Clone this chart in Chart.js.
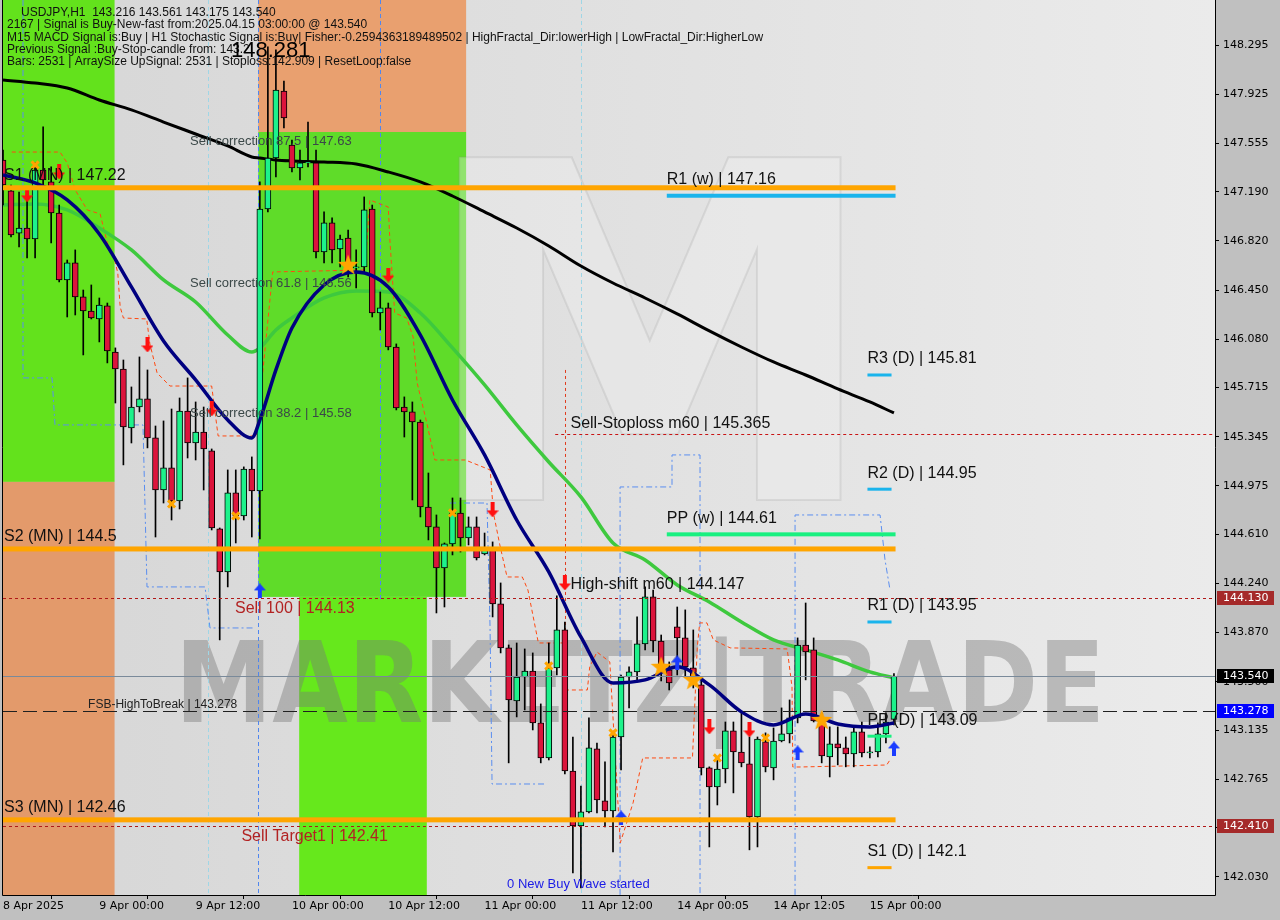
<!DOCTYPE html>
<html>
<head>
<meta charset="utf-8">
<script src="https://cdn.jsdelivr.net/npm/chart.js@4.4.1/dist/chart.umd.min.js"></script>
<style>
  html, body { margin: 0; padding: 0; background: #c0c0c0; }
  #wrap { width: 1280px; height: 920px; }
</style>
</head>
<body>
<div id="wrap"><canvas id="chart" width="1280" height="920"></canvas></div>
<script>
// USDJPY H1 candles, bar 0 = 8 Apr 12:00 ... bar 111 = 15 Apr 03:00
const opens = [147.429,147.196,146.879,146.917,146.834,147.354,147.264,147.030,146.526,146.654,146.398,146.292,146.232,146.330,145.983,145.855,145.411,145.569,145.630,145.336,144.944,145.110,144.862,145.539,145.298,145.381,145.238,144.651,144.327,144.922,144.749,145.102,144.937,147.060,147.444,147.949,147.542,147.369,147.407,147.407,146.736,146.955,146.759,146.842,146.616,146.624,147.060,146.277,146.315,146.021,145.569,145.532,145.456,144.816,144.666,144.357,144.538,144.771,144.583,144.666,144.462,144.493,144.086,143.755,143.356,143.536,143.581,143.190,142.926,143.604,143.890,142.828,142.414,142.520,142.994,142.603,142.527,143.084,143.536,143.574,143.785,144.139,143.807,143.589,143.913,143.830,143.604,143.476,142.851,142.708,142.843,143.130,142.971,142.881,142.482,143.047,142.851,143.054,143.107,143.228,143.777,143.740,143.205,142.934,143.032,143.002,142.956,143.122,142.964,142.971,143.107,143.216];
const highs = [147.504,147.241,147.188,147.188,147.407,147.678,147.377,147.090,146.676,146.752,146.450,146.488,146.390,146.352,146.014,145.923,145.720,145.946,145.848,145.426,145.464,145.554,145.637,145.788,145.607,145.569,145.253,144.658,145.095,145.095,145.118,145.193,147.264,148.281,148.258,148.024,147.580,147.504,147.715,147.504,147.038,146.993,146.864,146.902,146.752,147.151,147.090,146.435,146.352,146.044,145.645,145.607,145.471,145.072,144.756,144.545,144.884,144.884,144.741,144.741,144.620,144.553,144.244,143.777,143.792,143.747,143.717,143.333,143.792,144.147,143.950,143.084,142.715,143.228,143.039,142.896,143.122,143.551,143.612,143.988,144.214,144.191,143.852,143.649,144.063,144.041,143.890,143.536,142.859,142.934,143.197,143.197,143.265,143.084,143.084,143.115,143.152,143.303,143.363,143.830,144.093,143.830,143.265,143.160,143.160,143.084,143.160,143.197,143.009,143.190,143.265,143.561];
const lows = [147.090,146.849,146.774,146.691,146.691,147.233,146.804,146.511,146.247,146.262,145.961,146.232,146.059,145.901,145.599,145.133,145.298,145.532,145.261,144.590,144.846,144.718,144.801,145.185,145.170,144.944,144.643,143.815,144.214,144.545,144.718,144.590,144.575,147.038,147.301,147.670,147.339,147.279,147.377,146.691,146.654,146.654,146.624,146.548,146.465,146.586,146.247,146.149,145.999,145.547,145.343,144.869,144.741,144.568,144.018,144.063,144.455,144.477,144.530,144.417,144.455,143.988,143.717,142.889,143.235,143.288,143.137,142.889,142.911,143.551,142.806,142.060,141.947,142.512,142.512,142.407,142.218,142.836,143.303,143.499,143.740,143.724,143.506,143.438,143.551,143.536,143.453,142.798,142.256,142.572,142.738,142.663,142.859,142.234,142.256,142.821,142.761,143.047,143.039,143.190,143.514,143.197,142.889,142.783,142.874,142.859,142.859,142.934,142.926,142.934,143.039,143.175];
const closes = [147.241,146.864,146.917,146.834,147.354,147.279,147.030,146.526,146.654,146.398,146.292,146.240,146.337,145.991,145.855,145.419,145.569,145.630,145.336,144.944,145.110,144.862,145.539,145.298,145.381,145.253,144.658,144.327,144.922,144.749,145.102,144.937,147.060,147.444,147.956,147.746,147.369,147.407,147.414,146.736,146.955,146.752,146.834,146.616,146.624,147.053,146.277,146.315,146.021,145.562,145.532,145.456,144.816,144.666,144.357,144.538,144.771,144.583,144.666,144.432,144.493,144.086,143.755,143.363,143.536,143.581,143.190,142.926,143.604,143.890,142.828,142.414,142.520,143.002,142.610,142.527,143.084,143.536,143.574,143.785,144.139,143.807,143.589,143.491,143.830,143.612,143.484,142.851,142.708,142.843,143.130,142.971,142.889,142.482,143.069,142.859,143.054,143.107,143.228,143.777,143.724,143.205,142.941,143.032,143.002,142.956,143.122,142.964,142.971,143.107,143.197,143.540];

// moving averages, read at these bars
const maBars = [0,4,8,12,16,20,24,28,31,32,34,36,40,44,48,52,56,60,64,68,72,76,80,84,88,92,96,100,104,108,111];
const maSlow = [148.032,148.009,147.971,147.881,147.806,147.715,147.625,147.535,147.452,147.444,147.429,147.422,147.414,147.399,147.339,147.264,147.158,147.038,146.917,146.782,146.631,146.503,146.390,146.270,146.142,146.021,145.908,145.810,145.705,145.607,145.524];
const maMid = [147.090,147.098,147.053,146.917,146.752,146.526,146.360,146.111,145.983,146.014,146.149,146.240,146.390,146.443,146.435,146.277,146.014,145.735,145.434,145.155,144.892,144.545,144.417,144.229,144.101,143.950,143.815,143.740,143.664,143.574,143.529];
const maFast = [147.316,147.256,147.128,146.872,146.473,146.066,145.773,145.471,145.336,145.471,145.848,146.164,146.488,146.586,146.473,146.111,145.622,145.208,144.718,144.327,143.837,143.491,143.514,143.612,143.476,143.273,143.175,143.258,143.182,143.160,143.190];

// trailing stop (orange-red dashed), bar position / price
const trailBars = [1.1,7.1,8.0,9.0,10.5,12.1,13.0,13.7,14.3,14.6,15.0,17.9,18.3,19.2,20.8,26.0,26.8,31.6,32.0,33.6,45.1,45.7,48.0,48.2,48.8,50.3,51.1,51.6,52.8,53.8,57.6,60.7,61.1,61.9,62.8,64.7,65.4,66.7,70.0,70.3,72.8,73.1,74.0,75.6,76.9,78.5,79.7,85.9,86.5,86.8,87.7,88.5,90.6,97.7,98.3,98.4,99.3,110.1,110.5];
const trailPrices = [147.489,147.489,147.407,147.203,147.053,147.023,146.804,146.729,146.578,146.322,146.239,146.232,146.044,145.825,145.727,145.727,145.351,145.351,145.607,146.586,146.601,147.128,147.075,146.827,146.277,146.239,146.096,145.750,145.449,145.170,145.170,145.095,144.771,144.530,144.289,144.289,144.191,143.792,143.792,143.438,143.438,143.612,143.724,143.649,142.286,142.588,142.926,142.926,143.762,143.943,143.943,143.815,143.755,143.747,143.461,142.858,142.858,142.873,142.911];

// wave boxes (blue dash-dot), one list per segment
const waveBars = [
  [2.49,2.49,6.11,6.48,17.44,17.94,25.17,25.79,31.40],
  [55.69,60.30,60.68,60.93,67.53],
  [76.88,76.88,83.35,83.35,86.84,86.84],
  [98.68,98.68,109.27,109.89,110.51]
];
const wavePrices = [
  [148.634,145.788,145.788,145.434,145.434,144.214,144.214,143.905,143.905],
  [144.846,144.846,143.913,142.730,142.730],
  [141.895,144.967,144.967,145.208,145.208,141.895],
  [141.895,144.756,144.756,144.417,144.191]
];

// signal marks
const sellArrowBars = [3,7,18,26,48,61,70,88,93];
const sellArrowPrices = [147.166,147.339,146.036,145.554,146.563,144.794,144.244,143.160,143.137];
const buyArrowBars = [32,77,84,99,111];
const buyArrowPrices = [144.184,142.475,143.642,142.964,142.994];
const crossBars = [4,21,29,56,68,76,89,95];
const crossPrices = [147.392,144.839,144.749,144.771,143.619,143.115,142.926,143.077];
const starBars = [43,82,86,102];
const starPrices = [146.639,143.612,143.514,143.212];

// pivot levels
const monthlyNames = ['S1 (MN)', 'S2 (MN)', 'S3 (MN)'];
const monthlyLevels = [147.22, 144.5, 142.46];
const weeklyNames = ['R1 (w)', 'PP (w)'];
const weeklyLevels = [147.16, 144.61];
const dailyNames = ['R3 (D)', 'R2 (D)', 'R1 (D)', 'PP (D)', 'S1 (D)'];
const dailyLevels = [145.81, 144.95, 143.95, 143.09, 142.1];
const stopLoss = 145.365;
const highShift = 144.147;
const sell100 = 144.13;
const fsbHigh = 143.278;
const sellTarget = 142.41;
const lastPrice = 143.540;
const correctionNames = ['Sell correction 87.5', 'Sell correction 61.8', 'Sell correction 38.2'];
const correctionLevels = [147.63, 146.56, 145.58];

// axes
const tickBars = [0,12,24,36,48,60,72,84,96,108];
const tickLabels = ['8 Apr 2025','9 Apr 00:00','9 Apr 12:00','10 Apr 00:00','10 Apr 12:00','11 Apr 00:00','11 Apr 12:00','14 Apr 00:05','14 Apr 12:05','15 Apr 00:00'];
const priceTicks = [148.295,147.925,147.555,147.190,146.820,146.450,146.080,145.715,145.345,144.975,144.610,144.240,143.870,143.500,143.135,142.765,142.400,142.030];

// coloured zones: bar from/to, price from/to
const zoneBars = [[-1,13.9],[-1,13.9],[31.8,57.7],[31.8,57.7],[36.9,52.8]];
const zonePrices = [[145.005,149],[140,145.005],[147.64,149],[144.139,147.64],[140,144.139]];
const zoneColors = ['#63e21c','#e39a6b','#e9a06f','#5fdc29','#66e81c'];

const SANS = '"Liberation Sans", Arial, sans-serif';
const AXIS = '"DejaVu Sans", sans-serif';

function arrowImage(color, up) {
  const c = document.createElement('canvas');
  c.width = 12; c.height = 15;
  const g = c.getContext('2d');
  g.fillStyle = color;
  g.beginPath();
  if (up) {
    g.moveTo(6, 0); g.lineTo(12, 7); g.lineTo(8, 7); g.lineTo(8, 15); g.lineTo(4, 15); g.lineTo(4, 7); g.lineTo(0, 7);
  } else {
    g.moveTo(6, 15); g.lineTo(12, 8); g.lineTo(8, 8); g.lineTo(8, 0); g.lineTo(4, 0); g.lineTo(4, 8); g.lineTo(0, 8);
  }
  g.closePath(); g.fill();
  return c;
}
function starImage() {
  const c = document.createElement('canvas');
  c.width = 22; c.height = 22;
  const g = c.getContext('2d');
  g.fillStyle = '#ffa500';
  g.beginPath();
  for (let k = 0; k < 10; k++) {
    const r = k % 2 ? 4.5 : 11;
    const a = -Math.PI / 2 + k * Math.PI / 5;
    g.lineTo(11 + r * Math.cos(a), 11.5 + r * Math.sin(a));
  }
  g.closePath(); g.fill();
  return c;
}

const bodies = opens.map((o, i) => ({ x: i, y: [o, closes[i]] }));
const wicks = highs.map((h, i) => ({ x: i, y: [lows[i], h] }));
const bodyColors = opens.map((o, i) => closes[i] >= o ? '#1df28b' : '#dc143c');
const pts = (xs, ys) => xs.map((x, i) => ({ x: x, y: ys[i] }));

function text(ctx, s, x, y, font, color) {
  ctx.font = font; ctx.fillStyle = color;
  ctx.textAlign = 'left'; ctx.textBaseline = 'middle';
  ctx.fillText(s, x, y);
}
function noPad(s) {
  s.paddingTop = 0; s.paddingBottom = 0; s.paddingLeft = 0; s.paddingRight = 0;
}

const overlay = {
  id: 'overlay',
  beforeDraw(chart) {
    const { ctx, chartArea: a } = chart;
    ctx.save();
    ctx.fillStyle = '#c0c0c0';
    ctx.fillRect(0, 0, chart.width, chart.height);
    const g = ctx.createLinearGradient(a.left, 0, a.right, 0);
    g.addColorStop(0, '#d6d6d6');
    g.addColorStop(1, '#ebebeb');
    ctx.fillStyle = g;
    ctx.fillRect(a.left, a.top, a.right - a.left, a.bottom - a.top);
    ctx.restore();
  },
  beforeDatasetsDraw(chart) {
    const { ctx, chartArea: a, scales: { x, y } } = chart;
    ctx.save();
    ctx.beginPath(); ctx.rect(a.left, a.top, a.right - a.left, a.bottom - a.top); ctx.clip();
    // zones
    zoneBars.forEach((zb, k) => {
      const x0 = x.getPixelForValue(zb[0]), x1 = x.getPixelForValue(zb[1]);
      const y0 = y.getPixelForValue(zonePrices[k][1]), y1 = y.getPixelForValue(zonePrices[k][0]);
      ctx.fillStyle = zoneColors[k];
      ctx.fillRect(x0, y0, x1 - x0, y1 - y0);
    });
    // logo watermark
    ctx.font = 'bold 470px ' + AXIS;
    ctx.textAlign = 'center'; ctx.textBaseline = 'alphabetic';
    ctx.fillStyle = 'rgba(242,242,242,0.35)';
    ctx.fillText('M', 650, 500);
    ctx.strokeStyle = 'rgba(140,140,140,0.18)'; ctx.lineWidth = 2;
    ctx.strokeText('M', 650, 500);
    // text watermark
    ctx.font = 'bold 112px ' + AXIS;
    const s = 'MARKETZ|TRADE';
    const w = ctx.measureText(s).width;
    ctx.save();
    ctx.translate(175, 722);
    ctx.scale(930 / w, 1);
    ctx.textAlign = 'left';
    ctx.fillStyle = 'rgba(120,120,120,0.42)';
    ctx.fillText(s, 0, 0);
    ctx.restore();
    // vertical markers
    ctx.setLineDash([4, 3]); ctx.lineWidth = 1;
    ctx.strokeStyle = '#4f86ef';
    [[31.8, 0, 895], [47.0, 0, 600]].forEach(v => {
      const px = Math.round(x.getPixelForValue(v[0])) + 0.5;
      ctx.beginPath(); ctx.moveTo(px, v[1]); ctx.lineTo(px, v[2]); ctx.stroke();
    });
    ctx.strokeStyle = '#9fd6e6';
    [25.6, 72.0].forEach(b => {
      const px = Math.round(x.getPixelForValue(b)) + 0.5;
      ctx.beginPath(); ctx.moveTo(px, a.top); ctx.lineTo(px, a.bottom); ctx.stroke();
    });
    ctx.strokeStyle = '#e03c1e'; ctx.setLineDash([3, 3]);
    const sx = Math.round(x.getPixelForValue(70.0)) + 0.5;
    ctx.beginPath(); ctx.moveTo(sx, y.getPixelForValue(145.848)); ctx.lineTo(sx, y.getPixelForValue(143.438)); ctx.stroke();
    ctx.restore();
  },
  afterDatasetsDraw(chart) {
    const { ctx, chartArea: a, scales: { x, y } } = chart;
    const px = b => x.getPixelForValue(b);
    const py = p => y.getPixelForValue(p);
    ctx.save();
    ctx.beginPath(); ctx.rect(a.left, a.top, a.right - a.left, a.bottom - a.top); ctx.clip();

    // dotted / dashed price lines
    const hline = (p, x0, x1, color, dash, width) => {
      const yy = Math.round(py(p)) + 0.5;
      ctx.strokeStyle = color; ctx.lineWidth = width; ctx.setLineDash(dash);
      ctx.beginPath(); ctx.moveTo(x0, yy); ctx.lineTo(x1, yy); ctx.stroke();
    };
    hline(lastPrice, a.left, a.right, '#7a8a9a', [], 1);
    hline(fsbHigh, a.left, a.right, '#202020', [14, 6], 1);
    hline(stopLoss, px(68.8), a.right, '#c81414', [3, 3], 1);
    hline(sell100, a.left, a.right, '#b01818', [3, 3], 1);
    hline(sellTarget, a.left, a.right, '#b01818', [3, 3], 1);
    ctx.setLineDash([]);

    // pivot lines
    const end = px(111.2);
    monthlyLevels.forEach(p => {
      ctx.fillStyle = '#ffa500';
      ctx.fillRect(a.left, py(p) - 2.5, end - a.left, 5);
    });
    weeklyLevels.forEach((p, k) => {
      ctx.fillStyle = k === 0 ? '#1ab4ec' : '#19f080';
      ctx.fillRect(px(82.7), py(p) - 2, end - px(82.7), 4);
    });
    const dailyColors = ['#1ab4ec', '#1ab4ec', '#1ab4ec', '#19f080', '#ffa500'];
    dailyLevels.forEach((p, k) => {
      ctx.fillStyle = dailyColors[k];
      ctx.fillRect(px(107.7), py(p) - 1.5, px(110.7) - px(107.7), 3);
    });

    // labels
    const big = '16px ' + SANS;
    monthlyLevels.forEach((p, k) => text(ctx, monthlyNames[k] + ' | ' + p, a.left + 1, py(p) - 12, big, '#111'));
    weeklyLevels.forEach((p, k) => text(ctx, weeklyNames[k] + ' | ' + p, px(82.7), py(p) - 16, big, '#111'));
    dailyLevels.forEach((p, k) => text(ctx, dailyNames[k] + ' | ' + p, px(107.7), py(p) - 16, big, '#111'));
    text(ctx, 'Sell-Stoploss m60 | ' + stopLoss, px(70.7), py(stopLoss) - 10, big, '#111');
    text(ctx, 'High-shift m60 | ' + highShift, px(70.7), py(highShift) - 11, big, '#111');
    text(ctx, 'Sell 100 | ' + sell100, px(28.9), py(sell100) + 11, big, '#b22222');
    text(ctx, 'Sell Target1 | ' + sellTarget, px(29.7), py(sellTarget) + 10, big, '#b22222');
    text(ctx, 'FSB-HighToBreak | ' + fsbHigh, px(10.6), py(fsbHigh) - 7, '12px ' + SANS, '#222');
    correctionLevels.forEach((p, k) => text(ctx, correctionNames[k] + ' | ' + p.toFixed(2), px(23.3), py(p) + 8, '13px ' + SANS, '#3b4848'));
    text(ctx, '0 New Buy Wave started', px(62.8), 884, '13px ' + SANS, '#1a1ae6');
    ctx.restore();
  },
  afterDraw(chart) {
    const { ctx, chartArea: a, scales: { y } } = chart;
    ctx.save();
    // frame
    ctx.strokeStyle = '#000'; ctx.lineWidth = 1;
    ctx.beginPath();
    ctx.moveTo(2.5, 0); ctx.lineTo(2.5, a.bottom + 0.5);
    ctx.lineTo(a.right + 0.5, a.bottom + 0.5); ctx.lineTo(a.right + 0.5, 0);
    ctx.stroke();
    // price tags on the axis
    [[sell100, '#a52a2a'], [lastPrice, '#000000'], [fsbHigh, '#0000ff'], [sellTarget, '#a52a2a']].forEach(t => {
      const yy = Math.round(y.getPixelForValue(t[0]));
      ctx.fillStyle = t[1];
      ctx.fillRect(a.right + 2, yy - 7, 57, 14);
      text(ctx, t[0].toFixed(3), a.right + 8, yy + 0.5, '11px ' + AXIS, '#fff');
    });
    // header
    const hf = '12px ' + SANS;
    text(ctx, 'USDJPY,H1  143.216 143.561 143.175 143.540', 21, 12.5, hf, '#111');
    text(ctx, '2167 | Signal is Buy-New-fast from:2025.04.15 03:00:00 @ 143.540', 7, 25, hf, '#111');
    text(ctx, 'M15 MACD Signal is:Buy | H1 Stochastic Signal is:Buy| Fisher:-0.2594363189489502 | HighFractal_Dir:lowerHigh | LowFractal_Dir:HigherLow', 7, 37.5, hf, '#111');
    text(ctx, 'Previous Signal :Buy-Stop-candle from: 143.2', 7, 50, hf, '#111');
    text(ctx, 'Bars: 2531 | ArraySize UpSignal: 2531 | Stoploss:142.909 | ResetLoop:false', 7, 62, hf, '#111');
    text(ctx, highs[33].toFixed(3), 231, 51, '22px ' + SANS, '#000');
    ctx.restore();
  }
};

const waveSets = waveBars.map((wb, k) => ({
  type: 'line', data: pts(wb, wavePrices[k]), borderColor: '#5a8ef0', borderWidth: 1,
  borderDash: [6, 3, 2, 3], pointRadius: 0, order: 10
}));

new Chart(document.getElementById('chart'), {
  type: 'bar',
  data: {
    datasets: waveSets.concat([
      { type: 'line', data: pts(trailBars, trailPrices), borderColor: '#ff4a12', borderWidth: 1, borderDash: [4, 3], pointRadius: 0, order: 9 },
      { type: 'line', data: pts(maBars, maSlow), borderColor: '#000000', borderWidth: 3, pointRadius: 0, cubicInterpolationMode: 'monotone', order: 8 },
      { type: 'line', data: pts(maBars, maMid), borderColor: '#3ec93e', borderWidth: 3.5, pointRadius: 0, cubicInterpolationMode: 'monotone', order: 7 },
      { data: wicks, backgroundColor: '#000', barThickness: 1, grouped: false, order: 6 },
      { data: bodies, backgroundColor: bodyColors, borderColor: '#000', borderWidth: 1, borderSkipped: false, barThickness: 6, minBarLength: 1, grouped: false, order: 5 },
      { type: 'line', data: pts(maBars, maFast), borderColor: '#000080', borderWidth: 3.5, pointRadius: 0, cubicInterpolationMode: 'monotone', order: 4 },
      { type: 'line', data: pts(crossBars, crossPrices), showLine: false, pointStyle: 'crossRot', pointRadius: 5, pointBorderWidth: 3, pointBorderColor: '#ffa500', order: 3 },
      { type: 'line', data: pts(starBars, starPrices), showLine: false, pointStyle: starImage(), order: 2 },
      { type: 'line', data: pts(sellArrowBars, sellArrowPrices), showLine: false, pointStyle: arrowImage('#ff1010', false), order: 1 },
      { type: 'line', data: pts(buyArrowBars, buyArrowPrices), showLine: false, pointStyle: arrowImage('#1a3cff', true), order: 0 }
    ])
  },
  options: {
    responsive: false,
    animation: false,
    events: [],
    layout: { autoPadding: false, padding: { left: 3, top: 0, right: 0, bottom: 0 } },
    plugins: { legend: { display: false }, tooltip: { enabled: false } },
    scales: {
      x: {
        type: 'linear', min: 0, max: 151, offset: false,
        grid: { drawOnChartArea: false, drawTicks: true, tickLength: 4, color: '#000' },
        border: { display: false },
        afterBuildTicks: s => { s.ticks = tickBars.map(v => ({ value: v })); },
        afterFit: s => { s.height = 25; noPad(s); },
        ticks: {
          autoSkip: false, maxRotation: 0, align: 'start', padding: 1,
          color: '#000', font: { family: 'DejaVu Sans', size: 11 },
          callback: v => tickLabels[tickBars.indexOf(v)]
        }
      },
      y: {
        position: 'right', min: 141.894, max: 148.634,
        grid: { drawOnChartArea: false, drawTicks: true, tickLength: 4, color: '#000' },
        border: { display: false },
        afterBuildTicks: s => { s.ticks = priceTicks.map(v => ({ value: v })); },
        afterFit: s => { s.width = 65; noPad(s); },
        ticks: {
          padding: 4, color: '#000', font: { family: 'DejaVu Sans', size: 11 },
          callback: v => v.toFixed(3)
        }
      }
    }
  },
  plugins: [overlay]
});
</script>
</body>
</html>
